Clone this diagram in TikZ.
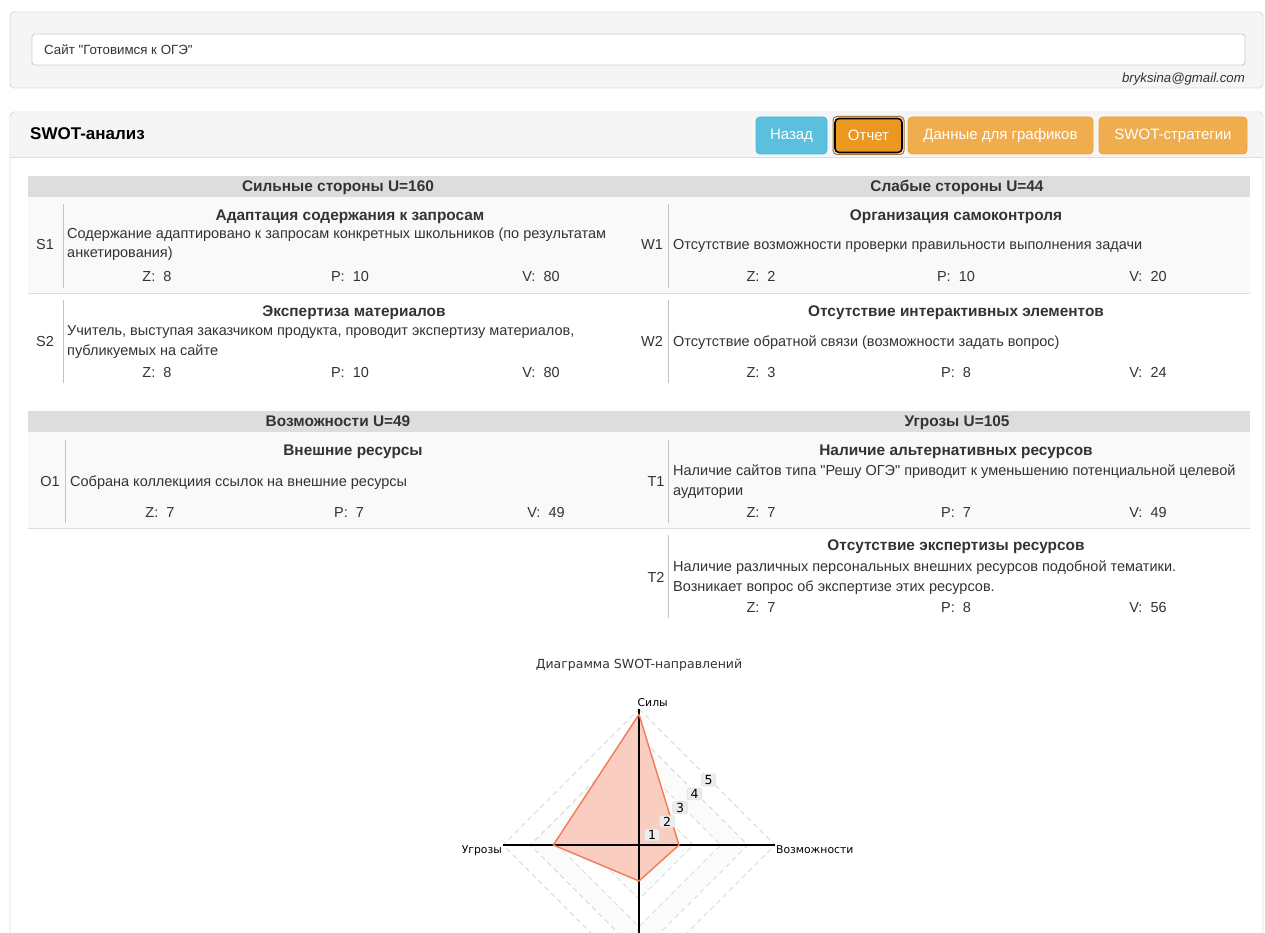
\documentclass[tikz,border=0pt]{standalone}
\usepackage{fontspec}
\setmainfont{Liberation Sans}
% plain family without TeX ligatures, so that " stays a straight quote
\newfontfamily\uifont{Liberation Sans}
\newfontfamily\chartfont{DejaVu Sans}
\newcommand\setpx[1]{\fontsize{#1}{#1}\selectfont}

\definecolor{txt}{HTML}{333333}
\definecolor{panelbg}{HTML}{F5F5F5}
\definecolor{panelline}{HTML}{DDDDDD}
\definecolor{inputline}{HTML}{CCCCCC}
\definecolor{barbg}{HTML}{DDDDDD}
\definecolor{stripe}{HTML}{F9F9F9}
\definecolor{rowline}{HTML}{DDDDDD}
\definecolor{vline}{HTML}{C4C4C4}
\definecolor{info}{HTML}{5BC0DE}
\definecolor{infoline}{HTML}{46B8DA}
\definecolor{warn}{HTML}{F0AD4E}
\definecolor{warnline}{HTML}{EEA236}
\definecolor{warnact}{HTML}{EC971F}
\definecolor{focusring}{HTML}{A8722E}
\definecolor{polyfill}{HTML}{F9CDC0}
\definecolor{polyline}{HTML}{F27B53}
\definecolor{gridc}{HTML}{D6D6D6}
\definecolor{band}{HTML}{FAFBFB}
\definecolor{tickbg}{HTML}{ECECEC}
\definecolor{tickline}{HTML}{DEDEDE}

\tikzset{
  body/.style={font=\uifont\setpx{14.5}, text=txt, inner sep=0pt},
  ttl/.style={font=\uifont\setpx{15.4}\bfseries, text=txt, inner sep=0pt, anchor=base},
  desc/.style={body, anchor=base west},
  code/.style={body, anchor=base},
  zpv/.style={body, anchor=base},
  vsep/.style={draw=vline, line width=0.9pt},
  hsep/.style={draw=rowline, line width=1.4pt},
  btn/.style={rounded corners=4pt, line width=0.8pt},
  btntext/.style={font=\uifont\setpx{15}, text=white, inner sep=0pt},
  gridline/.style={draw=gridc, line width=0.8pt, dash pattern=on 5pt off 4pt},
  axis/.style={draw=black, line width=1.2pt},
  axlabel/.style={font=\chartfont\setpx{10.8}, text=black, inner sep=0pt},
  tick/.style={font=\chartfont\setpx{12.5}, text=black, fill=tickbg, draw=tickline,
    line width=0.5pt, rounded corners=2pt, inner xsep=3.3pt, inner ysep=1.4pt},
}

\begin{document}
\uifont
\begin{tikzpicture}[x=1pt,y=-1pt]
\useasboundingbox (0,0) rectangle (1265,933);
\clip (0,0) rectangle (1265,933);
\fill[white] (0,0) rectangle (1265,933);

% ---------- project panel ----------
\draw[fill=panelbg, draw=panelline, line width=0.9pt, rounded corners=4pt] (10,12) rectangle (1263,88);
\draw[fill=white, draw=inputline, line width=0.9pt, rounded corners=3pt] (32,34) rectangle (1245,65);
\node[font=\uifont\setpx{13.3}, text=txt, inner sep=0pt, anchor=base west] (project) at (44,54.5) {Сайт "Готовимся к ОГЭ"};
\node[font=\uifont\setpx{13.2}\itshape, text=txt, inner sep=0pt, anchor=base east] (mail) at (1245,82.5) {bryksina@gmail.com};

% ---------- analysis panel ----------
\draw[fill=white, draw=panelline, line width=0.9pt, rounded corners=4pt] (10,112) rectangle (1263,990);
\fill[panelbg, rounded corners=4pt] (10.5,112.5) rectangle (1262.5,140);
\fill[panelbg] (10.5,130) rectangle (1262.5,157);
\draw[panelline, line width=0.9pt] (10,157) -- (1263,157);
\node[font=\uifont\setpx{17}\bfseries, text=black, inner sep=0pt, anchor=base west] (heading) at (30,140) {SWOT-анализ};

% buttons
\draw[btn, fill=info, draw=infoline] (756,117) rectangle (827,154);
\node[btntext] (back) at (791.5,135.5) {Назад};
\draw[btn, draw=focusring, line width=1pt] (833,116.5) rectangle (904,154.5);
\draw[btn, fill=warnact, draw=black, line width=1.6pt] (835,118.5) rectangle (902,152.5);
\node[btntext] (report) at (868.5,135.5) {Отчет};
\draw[btn, fill=warn, draw=warnline] (908,117) rectangle (1093,154);
\node[btntext] (chartdata) at (1000.5,135.5) {Данные для графиков};
\draw[btn, fill=warn, draw=warnline] (1099,117) rectangle (1247,154);
\node[btntext] (strategies) at (1173,135.5) {SWOT-стратегии};

% ---------- strengths / weaknesses ----------
\fill[barbg] (28,176) rectangle (1250,197);
\node[ttl] (shead) at (338,191.8) {Сильные стороны U=160};
\node[ttl] (whead) at (957,191.8) {Слабые стороны U=44};

\fill[stripe] (28,197) rectangle (1250,293);
\draw[hsep] (28,293.5) -- (1250,293.5);

% S1
\draw[vsep] (63,204) -- (63,288);
\node[code] (s1code) at (45,250) {S1};
\node[ttl] (s1ttl) at (350,220.5) {Адаптация содержания к запросам};
\node[desc] (s1d1) at (67,239) {Содержание адаптировано к запросам конкретных школьников (по результатам};
\node[desc] (s1d2) at (67,258) {анкетирования)};
\node[zpv] (s1z) at (157,281) {Z:~ 8};
\node[zpv] (s1p) at (350,281) {P:~ 10};
\node[zpv] (s1v) at (541,281) {V:~ 80};

% S2
\draw[vsep] (63,300) -- (63,383);
\node[code] (s2code) at (45,346) {S2};
\node[ttl] (s2ttl) at (354,316.5) {Экспертиза материалов};
\node[desc] (s2d1) at (67,335) {Учитель, выступая заказчиком продукта, проводит экспертизу материалов,};
\node[desc] (s2d2) at (67,355) {публикуемых на сайте};
\node[zpv] (s2z) at (157,377) {Z:~ 8};
\node[zpv] (s2p) at (350,377) {P:~ 10};
\node[zpv] (s2v) at (541,377) {V:~ 80};

% W1
\draw[vsep] (668,204) -- (668,288);
\node[code] (w1code) at (652,250) {W1};
\node[ttl] (w1ttl) at (956,220.5) {Организация самоконтроля};
\node[desc] (w1d1) at (673,249) {Отсутствие возможности проверки правильности выполнения задачи};
\node[zpv] (w1z) at (761,281) {Z:~ 2};
\node[zpv] (w1p) at (956,281) {P:~ 10};
\node[zpv] (w1v) at (1148,281) {V:~ 20};

% W2
\draw[vsep] (668,300) -- (668,383);
\node[code] (w2code) at (652,346) {W2};
\node[ttl] (w2ttl) at (956,316.5) {Отсутствие интерактивных элементов};
\node[desc] (w2d1) at (673,346) {Отсутствие обратной связи (возможности задать вопрос)};
\node[zpv] (w2z) at (761,377) {Z:~ 3};
\node[zpv] (w2p) at (956,377) {P:~ 8};
\node[zpv] (w2v) at (1148,377) {V:~ 24};

% ---------- opportunities / threats ----------
\fill[barbg] (28,411) rectangle (1250,432);
\node[ttl] (ohead) at (338,426.8) {Возможности U=49};
\node[ttl] (thead) at (957,426.8) {Угрозы U=105};

\fill[stripe] (28,432) rectangle (1250,528);
\draw[hsep] (28,528.5) -- (1250,528.5);

% O1
\draw[vsep] (65,440) -- (65,523);
\node[code] (o1code) at (50,486) {O1};
\node[ttl] (o1ttl) at (353,455.5) {Внешние ресурсы};
\node[desc] (o1d1) at (70,486) {Собрана коллекциия ссылок на внешние ресурсы};
\node[zpv] (o1z) at (160,517) {Z:~ 7};
\node[zpv] (o1p) at (349,517) {P:~ 7};
\node[zpv] (o1v) at (546,517) {V:~ 49};

% T1
\draw[vsep] (668,440) -- (668,523);
\node[code] (t1code) at (656,486) {T1};
\node[ttl] (t1ttl) at (956,455.5) {Наличие альтернативных ресурсов};
\node[desc] (t1d1) at (673,475) {Наличие сайтов типа "Решу ОГЭ" приводит к уменьшению потенциальной целевой};
\node[desc] (t1d2) at (673,495) {аудитории};
\node[zpv] (t1z) at (761,517) {Z:~ 7};
\node[zpv] (t1p) at (956,517) {P:~ 7};
\node[zpv] (t1v) at (1148,517) {V:~ 49};

% T2
\draw[vsep] (668,535) -- (668,618);
\node[code] (t2code) at (656,582) {T2};
\node[ttl] (t2ttl) at (956,550.5) {Отсутствие экспертизы ресурсов};
\node[desc] (t2d1) at (673,571) {Наличие различных персональных внешних ресурсов подобной тематики.};
\node[desc] (t2d2) at (673,591) {Возникает вопрос об экспертизе этих ресурсов.};
\node[zpv] (t2z) at (761,612) {Z:~ 7};
\node[zpv] (t2p) at (956,612) {P:~ 8};
\node[zpv] (t2v) at (1148,612) {V:~ 56};

% ---------- radar chart ----------
\node[font=\chartfont\setpx{12.5}, text=txt, inner sep=0pt, anchor=base] (charttitle) at (639,668.5) {Диаграмма SWOT-направлений};

\coordinate (ctr) at (639,845);
\def\lev{27.2}
% alternating bands
\fill[band, even odd rule]
  (639,845-2*\lev) -- (639+2*\lev,845) -- (639,845+2*\lev) -- (639-2*\lev,845) -- cycle
  (639,845-1*\lev) -- (639+1*\lev,845) -- (639,845+1*\lev) -- (639-1*\lev,845) -- cycle;
\fill[band, even odd rule]
  (639,845-4*\lev) -- (639+4*\lev,845) -- (639,845+4*\lev) -- (639-4*\lev,845) -- cycle
  (639,845-3*\lev) -- (639+3*\lev,845) -- (639,845+3*\lev) -- (639-3*\lev,845) -- cycle;
% dashed level rings
\foreach \k in {1,...,5}{
  \draw[gridline] (639,845-\k*\lev) -- (639+\k*\lev,845) -- (639,845+\k*\lev) -- (639-\k*\lev,845) -- cycle;
}
% values: S=160, O=49, W=44, T=105 (one ring = 33.3)
\coordinate (vS) at (639,714.4);
\coordinate (vO) at (679,845);
\coordinate (vW) at (639,881);
\coordinate (vT) at (553.3,845);
\fill[polyfill] (vS) -- (vO) -- (vW) -- (vT) -- cycle;

% axes
\coordinate (axN) at (639,709);
\coordinate (axS) at (639,981);
\coordinate (axE) at (775,845);
\coordinate (axW) at (503,845);
\draw[axis] (axN) -- (axS);
\draw[axis] (axW) -- (axE);
\draw[draw=polyline, line width=1.4pt, line join=round] (vS) -- (vO) -- (vW) -- (vT) -- cycle;

\node[axlabel, anchor=base west] (lblS) at (637.5,706.5) {Силы};
\node[axlabel, anchor=base west] (lblO) at (776,853) {Возможности};
\node[axlabel, anchor=base east] (lblT) at (502,853.5) {Угрозы};

\node[tick] (t1) at (652,835) {1};
\node[tick] (t2) at (667,821.5) {2};
\node[tick] (t3) at (680,807.5) {3};
\node[tick] (t4) at (694.5,794) {4};
\node[tick] (t5) at (708.5,780) {5};
\end{tikzpicture}
\end{document}
